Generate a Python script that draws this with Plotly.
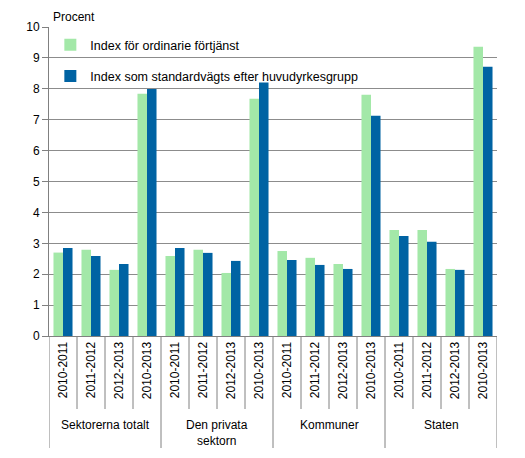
import plotly.graph_objects as go

groups = ["Sektorerna totalt", "Den privata<br>sektorn", "Kommuner", "Staten"]
periods = ["2010-2011", "2011-2012", "2012-2013", "2010-2013"]
ordinarie = [2.70, 2.79, 2.14, 7.84,
             2.59, 2.79, 2.04, 7.68,
             2.75, 2.53, 2.33, 7.81,
             3.43, 3.43, 2.17, 9.36]
standard = [2.85, 2.59, 2.33, 7.99,
            2.85, 2.69, 2.43, 8.20,
            2.46, 2.30, 2.17, 7.13,
            3.24, 3.05, 2.14, 8.71]
series_names = ["Index för ordinarie förtjänst",
                "Index som standardvägts efter huvudyrkesgrupp"]
colors = ["#A3E8A8", "#0063A3"]
yticks = list(range(0, 11))

n_per = len(periods)
labels = [p for _ in groups for p in periods]
xpos = list(range(len(labels)))

fig = go.Figure()
for i, (name, vals) in enumerate(zip(series_names, [ordinarie, standard])):
    fig.add_trace(go.Bar(x=xpos, y=vals, name=name,
                         marker=dict(color=colors[i], line=dict(width=0)),
                         legendgroup=str(i)))

font = dict(family="Liberation Sans, Arial", size=12, color="#000000")
legend_font = dict(family="Liberation Sans, Arial", size=12.5, color="#000000")
plot_h = 309.0
tick_len = -73 / plot_h
div_len = -112 / plot_h

shapes = []
for k in range(len(labels) + 1):
    is_div = (k % n_per == 0)
    shapes.append(dict(type="line", xref="x", yref="paper",
                       x0=k - 0.5, x1=k - 0.5, y0=0,
                       y1=div_len if is_div else tick_len,
                       line=dict(color="#808080", width=1)))

annotations = [dict(text="Procent", xref="paper", yref="paper",
                    x=0.005, y=1.0, xanchor="left", yanchor="bottom",
                    yshift=1, showarrow=False, font=font)]
for g, name in enumerate(groups):
    annotations.append(dict(text=name, xref="x", yref="paper",
                            x=g * n_per + (n_per - 1) / 2,
                            y=-80 / plot_h, xanchor="center", yanchor="top",
                            showarrow=False, font=font))

fig.update_layout(
    width=525, height=458,
    margin=dict(l=49, r=28, t=27, b=122),
    paper_bgcolor="white", plot_bgcolor="white",
    font=font,
    barmode="group", bargap=0.32, bargroupgap=0,
    showlegend=True,
    legend=dict(x=0.003, y=0.99, xanchor="left", yanchor="top",
                bgcolor="rgba(0,0,0,0)", font=legend_font, tracegroupgap=12,
                itemwidth=30),
    xaxis=dict(range=[-0.5, len(labels) - 0.5], tickvals=xpos,
               ticktext=labels, tickangle=-90, showline=True,
               linecolor="#808080", linewidth=1, ticks="",
               showgrid=False, zeroline=False, tickfont=font),
    yaxis=dict(range=[0, 10], tickvals=yticks, showgrid=True,
               gridcolor="#8C8C8C", gridwidth=1, showline=True,
               linecolor="#808080", ticks="outside", ticklen=6,
               tickcolor="#808080", tickfont=font, zeroline=False),
    shapes=shapes,
    annotations=annotations,
)
fig.write_html("out.html", config={"displayModeBar": False},
               post_script="document.body.style.margin='0';")
